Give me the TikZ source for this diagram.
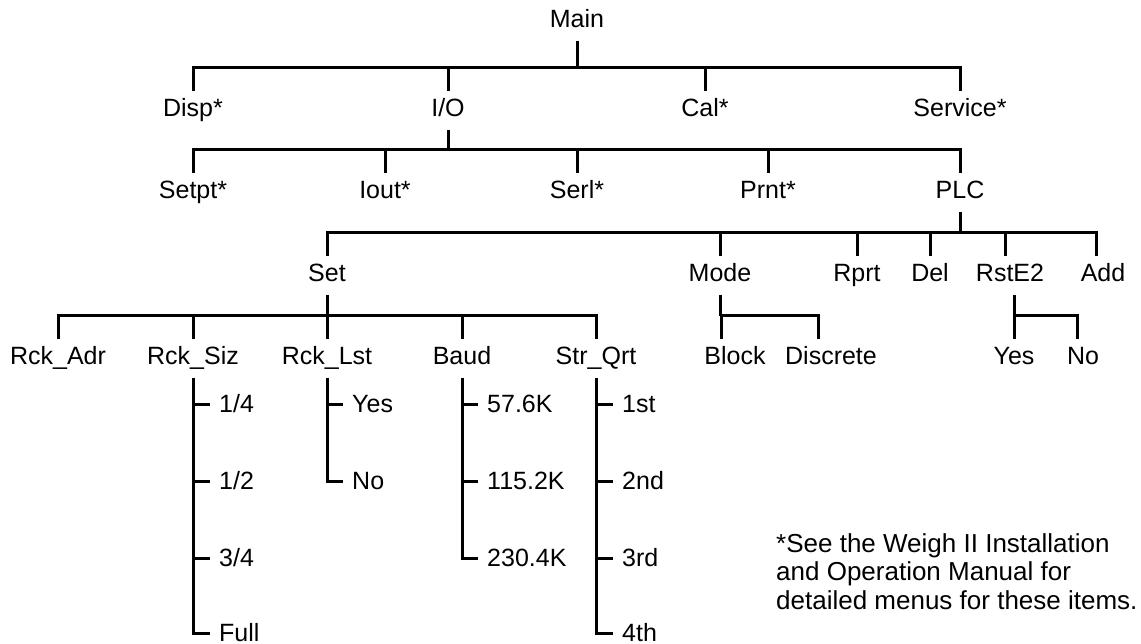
\documentclass[tikz,border=0pt]{standalone}
\usepackage{fontspec}
\setmainfont{Liberation Sans}
\begin{document}
\begin{tikzpicture}[x=1pt,y=-1pt,
  conn/.style={line width=3pt,line join=miter,line cap=butt},
  item/.style={anchor=base,inner xsep=2pt,inner ysep=8.5pt,text height=17.5pt,text depth=4pt,font=\fontsize{25}{30}\selectfont},
  leaf/.style={anchor=base west,inner xsep=9pt,inner ysep=0pt,text height=17.5pt,text depth=1.5pt,font=\fontsize{25}{30}\selectfont},
  note/.style={anchor=north west,inner sep=0pt,align=left,font=\fontsize{26}{28.5}\selectfont}]
\useasboundingbox (0,0) rectangle (1141,644);
% bar levels
\coordinate (b0) at (0,68);
\coordinate (b1) at (0,150);
\coordinate (b2) at (0,233);
\coordinate (b3) at (0,316);
% level 0
\node[item] (main) at (577,28) {Main};
% level 1
\node[item] (disp) at (193,117) {Disp*};
\node[item] (io) at (448,117) {I/O};
\node[item] (cal) at (705,117) {Cal*};
\node[item] (svc) at (960,117) {Service*};
% level 2
\node[item] (setpt) at (193,199) {Setpt*};
\node[item] (iout) at (385,199) {Iout*};
\node[item] (serl) at (577,199) {Serl*};
\node[item] (prnt) at (768,199) {Prnt*};
\node[item] (plc) at (960,199) {PLC};
% level 3
\node[item] (set) at (327,282) {Set};
\node[item] (mode) at (720,282) {Mode};
\node[item] (rprt) at (857,282) {Rprt};
\node[item] (del) at (930,282) {Del};
\node[item] (rste) at (1010,282) {RstE2};
\node[item] (add) at (1103,282) {Add};
% level 4
\node[item] (radr) at (58,365) {Rck\_Adr};
\node[item] (rsiz) at (193,365) {Rck\_Siz};
\node[item] (rlst) at (327,365) {Rck\_Lst};
\node[item] (baud) at (462,365) {Baud};
\node[item] (sqrt) at (596,365) {Str\_Qrt};
\node[item] (block) at (735,365) {Block};
\node[item] (disc) at (831,365) {Discrete};
\node[item] (ryes) at (1014,365) {Yes};
\node[item] (rno) at (1083,365) {No};
% leaves
\node[leaf] (s1) at (210,412) {1/4};
\node[leaf] (s2) at (210,489) {1/2};
\node[leaf] (s3) at (210,566) {3/4};
\node[leaf] (s4) at (210,641) {Full};
\node[leaf] (l1) at (343,412) {Yes};
\node[leaf] (l2) at (343,489) {No};
\node[leaf] (d1) at (478,412) {57.6K};
\node[leaf] (d2) at (478,489) {115.2K};
\node[leaf] (d3) at (478,566) {230.4K};
\node[leaf] (q1) at (613,412) {1st};
\node[leaf] (q2) at (613,489) {2nd};
\node[leaf] (q3) at (613,566) {3rd};
\node[leaf] (q4) at (613,641) {4th};
% footnote
\node[note] (fn) at (776,533) {*See the Weigh II Installation\\and Operation Manual for\\detailed menus for these items.};
% offset connector ends
\coordinate (blockT) at ([xshift=-14pt]block.north);
\coordinate (discT) at ([xshift=-13pt]disc.north);
\coordinate (rsteT) at ([xshift=-5pt]rste.north);
\coordinate (rsteB) at ([xshift=4pt]rste.south);
\coordinate (addT) at ([xshift=-7pt]add.north);
\coordinate (rnoT) at ([xshift=-6pt]rno.north);
% Main
\draw[conn] (main.south) -- (main.south |- b0);
\draw[conn] (disp.north) -- (disp.north |- b0) -- (svc.north |- b0) -- (svc.north);
\draw[conn] (io.north) -- (io.north |- b0);
\draw[conn] (cal.north) -- (cal.north |- b0);
% I/O
\draw[conn] (io.south) -- (io.south |- b1);
\draw[conn] (setpt.north) -- (setpt.north |- b1) -- (plc.north |- b1) -- (plc.north);
\draw[conn] (iout.north) -- (iout.north |- b1);
\draw[conn] (serl.north) -- (serl.north |- b1);
\draw[conn] (prnt.north) -- (prnt.north |- b1);
% PLC
\draw[conn] (plc.south) -- (plc.south |- b2);
\draw[conn] (set.north) -- (set.north |- b2) -- (addT |- b2) -- (addT);
\draw[conn] (mode.north) -- (mode.north |- b2);
\draw[conn] (rprt.north) -- (rprt.north |- b2);
\draw[conn] (del.north) -- (del.north |- b2);
\draw[conn] (rsteT) -- (rsteT |- b2);
% Set
\draw[conn] (set.south) -- (set.south |- b3);
\draw[conn] (radr.north) -- (radr.north |- b3) -- (sqrt.north |- b3) -- (sqrt.north);
\draw[conn] (rsiz.north) -- (rsiz.north |- b3);
\draw[conn] (rlst.north) -- (rlst.north |- b3);
\draw[conn] (baud.north) -- (baud.north |- b3);
% Mode
\draw[conn] (mode.south) -- (mode.south |- b3);
\draw[conn] (blockT) -- (blockT |- b3) -- (discT |- b3) -- (discT);
% RstE2
\draw[conn] (rsteB) -- (rsteB |- b3);
\draw[conn] (ryes.north) -- (ryes.north |- b3) -- (rnoT |- b3) -- (rnoT);
% leaf lists
\draw[conn] (rsiz.south) |- (s4.west);
\draw[conn] (rsiz.south |- s1.west) -- (s1.west);
\draw[conn] (rsiz.south |- s2.west) -- (s2.west);
\draw[conn] (rsiz.south |- s3.west) -- (s3.west);
\draw[conn] (rlst.south) |- (l2.west);
\draw[conn] (rlst.south |- l1.west) -- (l1.west);
\draw[conn] (baud.south) |- (d3.west);
\draw[conn] (baud.south |- d1.west) -- (d1.west);
\draw[conn] (baud.south |- d2.west) -- (d2.west);
\draw[conn] (sqrt.south) |- (q4.west);
\draw[conn] (sqrt.south |- q1.west) -- (q1.west);
\draw[conn] (sqrt.south |- q2.west) -- (q2.west);
\draw[conn] (sqrt.south |- q3.west) -- (q3.west);
\end{tikzpicture}
\end{document}
